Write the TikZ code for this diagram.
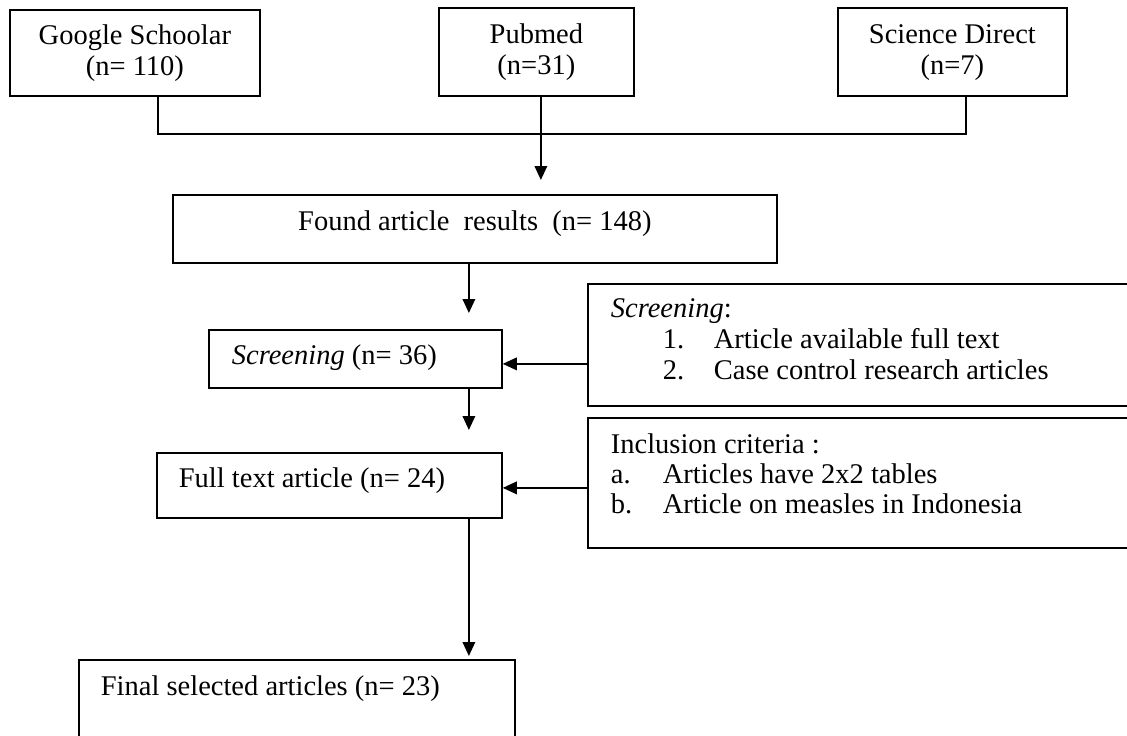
\documentclass[tikz,border=0pt]{standalone}
\usepackage{fontspec}
\setmainfont{Liberation Serif}
\usetikzlibrary{arrows.meta}

\begin{document}
\begin{tikzpicture}[x=0.4pt,y=-0.4pt,line width=0.7pt,
  every node/.style={font=\fontsize{11.4pt}{12.4pt}\selectfont},
  box/.style={draw,anchor=north west,inner ysep=0pt,align=flush left},
  flow/.style={-{Triangle[length=5.6pt,width=5pt]}}]
\useasboundingbox (0,0) rectangle (1127,735);

% sources
\node[box,align=flush center,inner xsep=0pt,text width=100pt,text height=14pt,text depth=20.4pt] (google) at (9,9) {Google Schoolar\\(n= 110)};
\node[box,align=flush center,inner xsep=0pt,text width=78pt,text height=14.4pt,text depth=20.8pt] (pubmed) at (438,7) {Pubmed\\(n=31)};
\node[box,align=flush center,inner xsep=0pt,text width=91.6pt,text height=14.4pt,text depth=20.8pt] (science) at (837,7) {Science Direct\\(n=7)};

% main flow
\node[box,align=flush center,inner xsep=0pt,text width=241.6pt,text height=14.4pt,text depth=12.8pt] (found) at (172,194) {Found article\ \ results\ \ (n= 148)};
\node[box,inner xsep=9.2pt,text width=98.8pt,text height=14pt,text depth=9.2pt] (screen) at (208,329) {\textit{Screening} (n= 36)};
\node[box,inner xsep=8.8pt,text width=120.4pt,text height=14pt,text depth=12pt] (fulltext) at (156,452) {Full text article (n= 24)};
\node[box,inner xsep=8.8pt,text width=156.8pt,text height=14.4pt,text depth=24pt] (final) at (78,659) {Final selected articles (n= 23)};

% criteria
\node[box,inner xsep=9.2pt,text width=202.8pt,text height=13.6pt,text depth=35.2pt] (screencrit) at (587,283) {\textit{Screening}:\\
  \hspace*{20.8pt}\makebox[20.4pt][l]{1.}Article available full text\\
  \hspace*{20.8pt}\makebox[20.4pt][l]{2.}Case control research articles};
\node[box,inner xsep=9.2pt,text width=202.8pt,text height=14.4pt,text depth=37.6pt,
  font=\fontsize{11.4pt}{12pt}\selectfont] (inclcrit) at (587,417) {Inclusion criteria :\\
  \makebox[20.8pt][l]{a.}Articles have 2x2 tables\\
  \makebox[20.8pt][l]{b.}Article on measles in Indonesia};

% connectors
\coordinate (merge) at (540,134);
\coordinate (spine) at ([xshift=-2.4pt]found.south);
\draw ([xshift=9.2pt]google.south) |- (merge) -| ([xshift=5.4pt]science.south);
\draw[flow,shorten >=5.6pt] ([xshift=1.8pt]pubmed.south) -- ([xshift=1.8pt]pubmed.south |- found.north);
\draw[flow,shorten >=6.4pt] (spine) -- (spine |- screen.north);
\draw[flow,shorten >=8.8pt] (spine |- screen.south) -- (spine |- fulltext.north);
\draw[flow,shorten >=1.2pt] (spine |- fulltext.south) -- (spine |- final.north);
\draw[flow] ([yshift=-7.6pt]screencrit.west) -- ([yshift=-7.6pt]screencrit.west -| screen.east);
\draw[flow] ([yshift=-2pt]inclcrit.west) -- ([yshift=-2pt]inclcrit.west -| fulltext.east);
\end{tikzpicture}
\end{document}
